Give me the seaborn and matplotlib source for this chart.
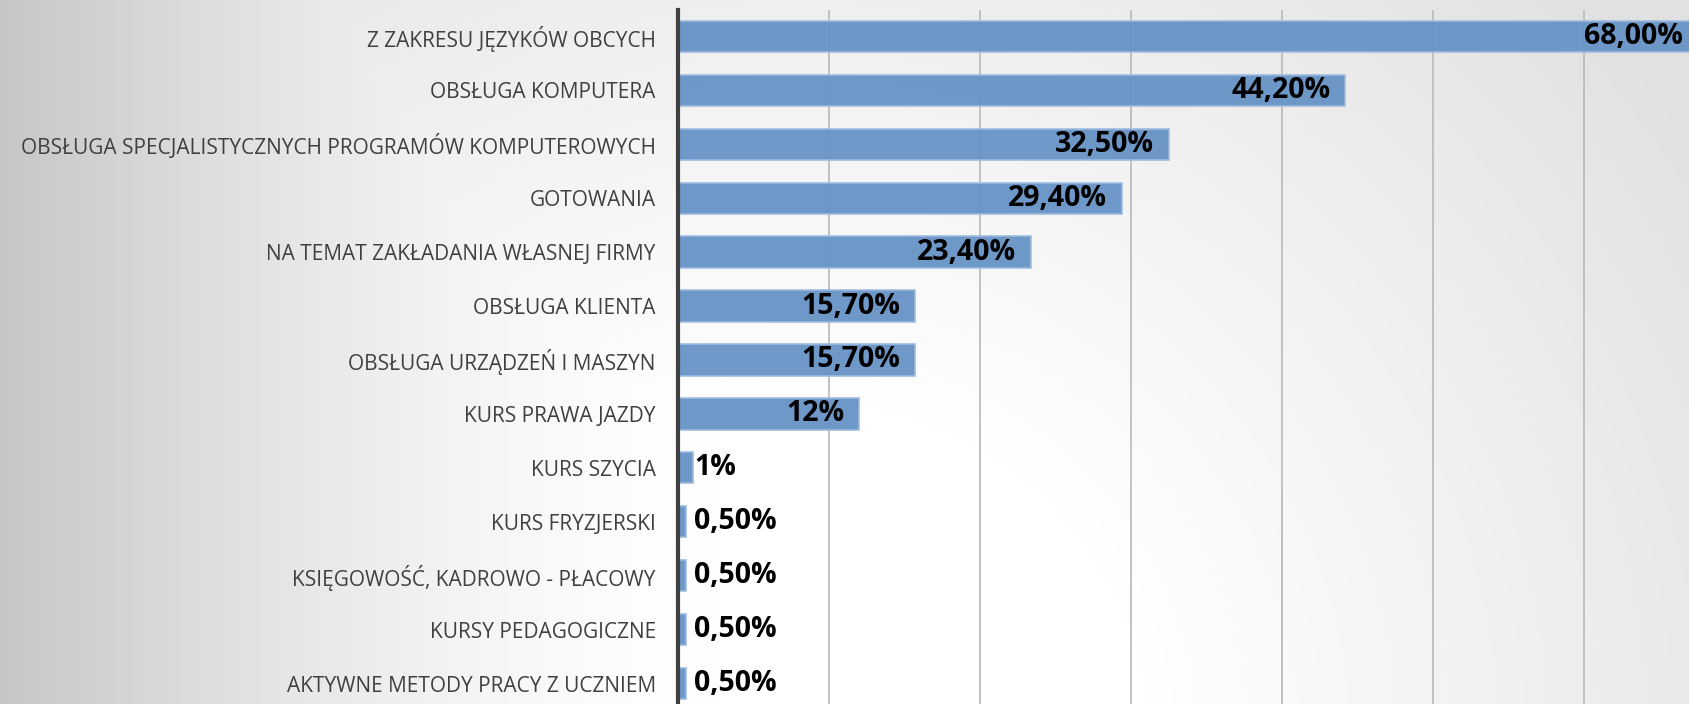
import numpy as np
import pandas as pd
import matplotlib
matplotlib.use("Agg")
import matplotlib.pyplot as plt
import seaborn as sns

categories = [
    "Z ZAKRESU JĘZYKÓW OBCYCH",
    "OBSŁUGA KOMPUTERA",
    "OBSŁUGA SPECJALISTYCZNYCH PROGRAMÓW KOMPUTEROWYCH",
    "GOTOWANIA",
    "NA TEMAT ZAKŁADANIA WŁASNEJ FIRMY",
    "OBSŁUGA KLIENTA",
    "OBSŁUGA URZĄDZEŃ I MASZYN",
    "KURS PRAWA JAZDY",
    "KURS SZYCIA",
    "KURS FRYZJERSKI",
    "KSIĘGOWOŚĆ, KADROWO - PŁACOWY",
    "KURSY PEDAGOGICZNE",
    "AKTYWNE METODY PRACY Z UCZNIEM",
]
values = [68.0, 44.2, 32.5, 29.4, 23.4, 15.7, 15.7, 12.0, 1.0, 0.5, 0.5, 0.5, 0.5]
value_labels = ["68,00%", "44,20%", "32,50%", "29,40%", "23,40%", "15,70%", "15,70%",
                "12%", "1%", "0,50%", "0,50%", "0,50%", "0,50%"]
grid_ticks = [10, 20, 30, 40, 50, 60]

df = pd.DataFrame({"kategoria": categories, "wartosc": values})

sns.set_theme(style="white")
plt.rcParams["font.family"] = ["Open Sans", "DejaVu Sans"]

W, H, DPI = 1690, 704, 100
fig = plt.figure(figsize=(W / DPI, H / DPI), dpi=DPI)

# background gradient
yy, xx = np.mgrid[0:H, 0:W].astype(float)
left_dark = 57 * np.clip(1 - xx / 720.0, 0, 1) ** 1.6
d = np.hypot(xx - 800, yy - 750)
right_dark = 30 * np.clip((d - 350) / 750.0, 0, 1)
v = (255 - np.maximum(left_dark, right_dark)) / 255.0
bg = np.dstack([v, v, v])
bax = fig.add_axes([0, 0, 1, 1], zorder=-10)
bax.imshow(bg, aspect="auto", extent=[0, 1, 0, 1], origin="upper")
bax.axis("off")

ax = fig.add_axes([678 / W, 0.0, 1 - 678 / W, 1 - 10 / H])
ax.set_facecolor("none")

sns.barplot(data=df, y="kategoria", x="wartosc", orient="h", ax=ax,
            color="#6894c6", width=0.58, edgecolor="#9dbbe0", linewidth=1.2,
            saturation=1, alpha=0.96, zorder=2)

xmax = 67.02
ax.set_xlim(0, xmax)
ax.set_ylim(12.38, -0.49)

for gx in grid_ticks:
    ax.axvline(gx, color="#bdbdbd", lw=1.3, zorder=1)

for i, (val, lab) in enumerate(zip(values, value_labels)):
    if val >= 5:
        ax.annotate(lab, xy=(min(val, xmax), i), xytext=(-7 if val > xmax else -15, 0),
                    textcoords="offset pixels", ha="right", va="center",
                    fontsize=20.5, fontweight="bold", color="black", zorder=5,
                    annotation_clip=False)
    else:
        ax.annotate(lab, xy=(val, i), xytext=(1 if val >= 1 else 8, 0),
                    textcoords="offset pixels",
                    ha="left", va="center", fontsize=20.5, fontweight="bold",
                    color="black", zorder=5)

ax.set_xlabel("")
ax.set_ylabel("")
ax.set_xticks([])
ax.tick_params(axis="y", length=0, pad=16, labelsize=15, labelcolor="#404040")
for s in ["top", "right", "bottom"]:
    ax.spines[s].set_visible(False)
ax.spines["left"].set_color("#404040")
ax.spines["left"].set_linewidth(3)
ax.spines["left"].set_zorder(6)

fig.savefig("out.png", dpi=DPI)
